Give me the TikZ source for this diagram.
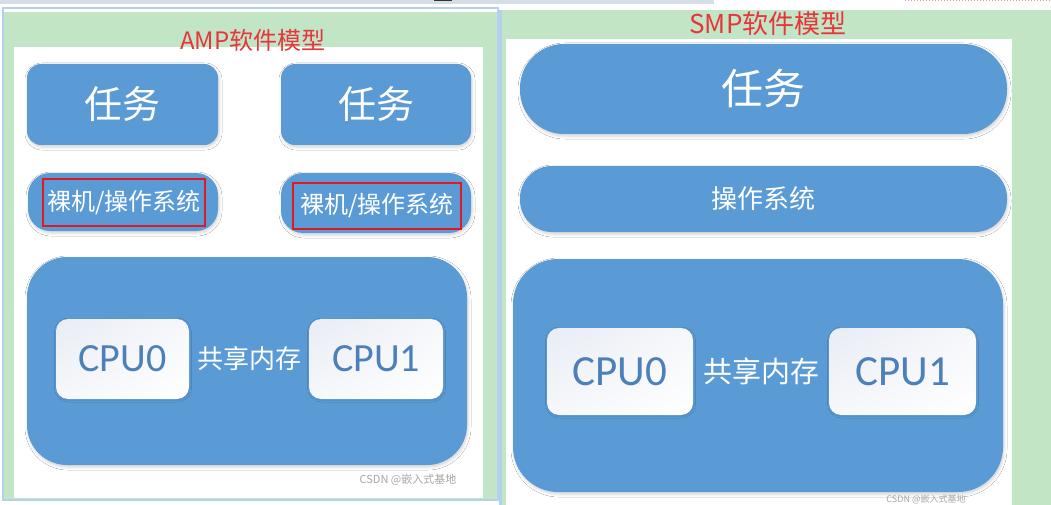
\documentclass[tikz,border=0pt]{standalone}
\usepackage{fontspec}
\setmainfont{Noto Sans CJK SC}
\newfontfamily\cpufont{Carlito}
\usepackage{tikz}
\usetikzlibrary{positioning, calc, shadings, shadows.blur}

\definecolor{boxblue}{HTML}{5B9BD5}
\definecolor{panelgreen}{HTML}{C2E5C6}
\definecolor{titlered}{HTML}{E8343C}
\definecolor{markred}{HTML}{E3171F}
\definecolor{cputext}{HTML}{4B80B8}
\definecolor{frameblue}{HTML}{B4CFF0}
\definecolor{topgray}{HTML}{D5DDE6}
\definecolor{cpushade}{HTML}{E8ECF4}

\tikzset{
  bluebox/.style={fill=boxblue, text=white, inner sep=0pt,
    blur shadow={shadow xshift=1pt, shadow yshift=-2pt, shadow opacity=18, shadow blur radius=3pt}},
  cpubox/.style={rounded corners=12pt, inner sep=0pt, text=cputext,
    upper left=cpushade, upper right=cpushade!40!white, lower left=cpushade!40!white, lower right=white,
    blur shadow={shadow xshift=0.5pt, shadow yshift=-1pt, shadow opacity=15, shadow blur radius=2pt}},
  osmark/.style={draw=markred, line width=2pt, text=white, inner sep=0pt,
    font=\fontsize{24}{26}\selectfont},
  paneltitle/.style={text=titlered, inner sep=0pt},
  watermark/.style={text=black!35, inner sep=0pt, font=\fontsize{11}{13}\selectfont}
}

\begin{document}
\begin{tikzpicture}[x=1pt, y=-1pt]
  \clip (0,0) rectangle (1051,505);
  % screen behind the two panels
  \fill[white] (0,0) rectangle (1051,505);
  \fill[topgray] (0,0) rectangle (714,4);
  \fill[black!80] (434,0) rectangle (452,1.5);
  \draw[markred!45, dotted, line width=1pt] (905,0.5) -- (1051,0.5);

  % AMP panel
  \draw[frameblue, line width=2pt, fill=panelgreen] (3,8) rectangle (498,500);
  \fill[white] (4,9.5) rectangle (497,12);
  \fill[white] (14,47) rectangle (483,498);
  % SMP panel
  \fill[frameblue] (499,10) rectangle (503,505);
  \fill[panelgreen] (502,10) rectangle (1051,505);
  \fill[white] (506,39) rectangle (1012,505);

  \node (amptitle) [paneltitle, font=\fontsize{24}{26}\selectfont] at (253,40) {AMP软件模型};
  \node (smptitle) [paneltitle, font=\fontsize{26}{28}\selectfont] at (768,24) {SMP软件模型};

  % AMP: one system per core
  \node (amptaskA) [bluebox, rounded corners=14pt, minimum width=191pt, minimum height=81pt,
    font=\fontsize{38}{40}\selectfont] at (122.5,104.5) {任务};
  \node (amptaskB) [bluebox, rounded corners=14pt, minimum width=190pt, minimum height=81pt,
    font=\fontsize{38}{40}\selectfont] at (376,104.5) {任务};
  \node (amposA) [bluebox, rounded corners=22pt, minimum width=190pt, minimum height=58pt] at (123,202) {};
  \node (amposB) [bluebox, rounded corners=22pt, minimum width=190pt, minimum height=60pt] at (376,203) {};
  \node (amposAtext) [osmark, minimum width=162pt, minimum height=47pt] at (124,202.5) {裸机/操作系统};
  \node (amposBtext) [osmark, minimum width=168pt, minimum height=46pt] at (377,206) {裸机/操作系统};
  \node (ampcore) [bluebox, rounded corners=40pt, minimum width=440pt, minimum height=208pt] at (247,361) {};
  \node (ampcpu0) [cpubox, minimum width=133pt, minimum height=80pt,
    font=\cpufont\fontsize{40}{42}\selectfont] at (122.5,359) {CPU0};
  \node (ampcpu1) [cpubox, minimum width=134pt, minimum height=80pt,
    font=\cpufont\fontsize{40}{42}\selectfont] at (376,359) {CPU1};
  \node (ampmem) [text=white, inner sep=0pt, font=\fontsize{26}{28}\selectfont]
    at ($(ampcpu0)!0.5!(ampcpu1)$) {共享内存};
  \node (ampmark) [watermark] at (408,480) {CSDN @嵌入式基地};

  % SMP: one system over both cores
  \node (smptask) [bluebox, rounded corners=44pt, minimum width=487pt, minimum height=90pt,
    font=\fontsize{42}{44}\selectfont] at (763.5,89) {任务};
  \node (smpos) [bluebox, rounded corners=32pt, minimum width=487pt, minimum height=66pt,
    font=\fontsize{26}{28}\selectfont] at (763.5,199) {操作系统};
  \node (smpcore) [bluebox, rounded corners=45pt, minimum width=490pt, minimum height=233pt] at (758,375.5) {};
  \node (smpcpu0) [cpubox, minimum width=146pt, minimum height=87pt,
    font=\cpufont\fontsize{43}{45}\selectfont] at (620,371.5) {CPU0};
  \node (smpcpu1) [cpubox, minimum width=147pt, minimum height=87pt,
    font=\cpufont\fontsize{43}{45}\selectfont] at (902.5,371.5) {CPU1};
  \node (smpmem) [text=white, inner sep=0pt, font=\fontsize{29}{31}\selectfont]
    at ($(smpcpu0)!0.5!(smpcpu1)$) {共享内存};
  \node (smpmark) [watermark, font=\fontsize{9}{10}\selectfont] at (926,499) {CSDN @嵌入式基地};
\end{tikzpicture}
\end{document}
